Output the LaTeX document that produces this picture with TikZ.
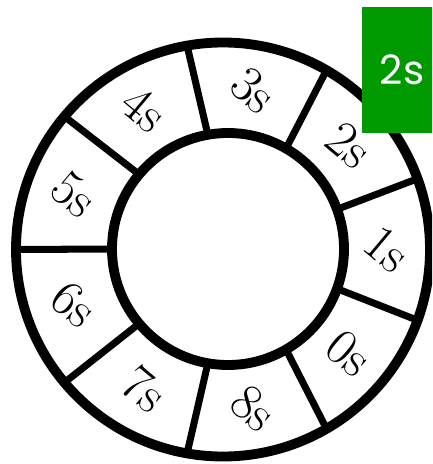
\documentclass[tikz,border=0pt]{standalone}
\usepackage{fontspec}
\newfontfamily\badgefont{Poppins}
\usepackage{tikz}
\usetikzlibrary{calc}
\definecolor{badgegreen}{HTML}{009A00}

\begin{document}
\begin{tikzpicture}[x=0.2mm,y=-0.2mm,
  ring/.style={circle,draw=black,line width=5.6pt,outer sep=0pt,inner sep=0pt},
  spoke/.style={line width=4pt},
  slot/.style={font=\fontsize{29}{34}\selectfont,rotate=-40,inner sep=0pt},
  badgebox/.style={fill=badgegreen,text=white,minimum width=16mm,minimum height=25.2mm,
    font=\badgefont\fontsize{23}{28}\selectfont}]
\clip (0,0) rectangle (432,464);
\node[ring,minimum size=82.8mm] (rim) at (223,249.5) {};
\node[ring,minimum size=46.4mm] (hub) at (228,249) {};
\foreach \a in {20,60,...,340}
  \draw[spoke] (hub.\a) -- (rim.\a);
\foreach \a/\n in {320/0,0/1,40/2,80/3,120/4,160/5,200/6,240/7,280/8}
  \node[slot] (sec\n) at ($(hub.\a)!0.5!(rim.\a)$) {\n s};
\node[badgebox] (badge) at (402,70) {2s};
\end{tikzpicture}
\end{document}
